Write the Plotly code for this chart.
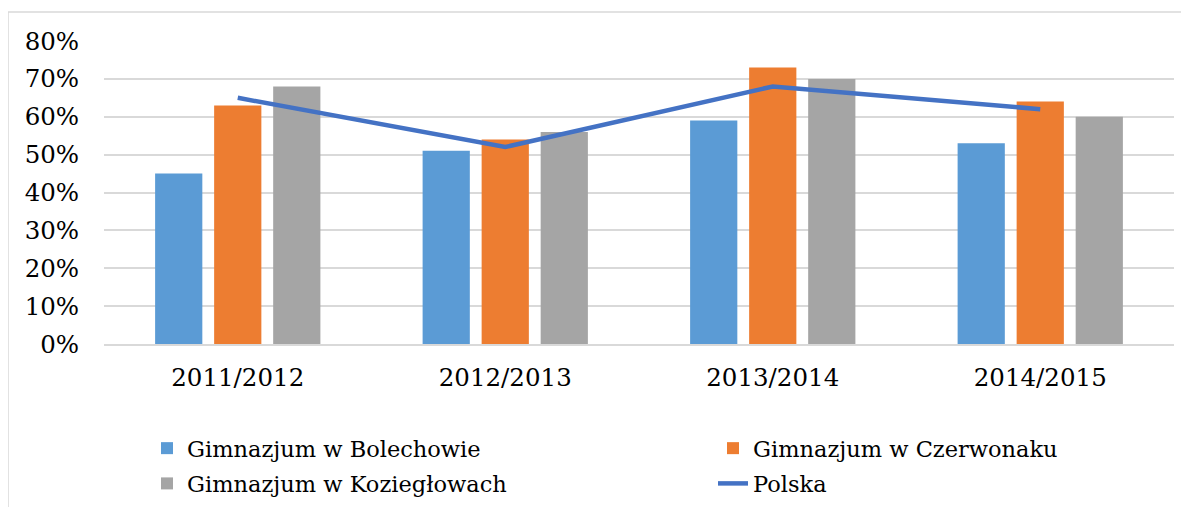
import plotly.graph_objects as go

categories = ["2011/2012", "2012/2013", "2013/2014", "2014/2015"]
bolechowo = [0.45, 0.51, 0.59, 0.53]
czerwonak = [0.63, 0.54, 0.73, 0.64]
kozieglowy = [0.68, 0.56, 0.70, 0.60]
polska = [0.65, 0.52, 0.68, 0.62]
y_ticks = [0, 0.1, 0.2, 0.3, 0.4, 0.5, 0.6, 0.7, 0.8]

FONT = "DejaVu Serif"

fig = go.Figure()
fig.add_trace(go.Bar(name="Gimnazjum w Bolechowie", x=categories, y=bolechowo,
                     marker=dict(color="#5B9BD5", line=dict(width=0)),
                     legend="legend", legendgroup="a"))
fig.add_trace(go.Bar(name="Gimnazjum w Czerwonaku", x=categories, y=czerwonak,
                     marker=dict(color="#ED7D31", line=dict(width=0)),
                     legend="legend2", legendgroup="b"))
fig.add_trace(go.Bar(name="Gimnazjum w Koziegłowach", x=categories, y=kozieglowy,
                     marker=dict(color="#A5A5A5", line=dict(width=0)),
                     legend="legend", legendgroup="c"))
fig.add_trace(go.Scatter(name="Polska", x=categories, y=polska, mode="lines",
                         line=dict(color="#4472C4", width=4.5),
                         legend="legend2", legendgroup="d"))

# page has an 8px body margin, so figure coordinates = page coordinates - 8
OFF = 8
W, H = 1189, 507
ml, mr, mt, mb = 104 - OFF, W - (1174 - OFF), 41 - OFF, H - (344 - OFF)
pw = W - ml - mr
ph = H - mt - mb

leg_common = dict(orientation="v", xanchor="left", yanchor="top",
                  y=-0.274,
                  font=dict(family=FONT, size=22.5, color="black"),
                  tracegroupgap=3, bgcolor="rgba(0,0,0,0)")

fig.update_layout(
    width=W, height=H,
    margin=dict(l=ml, r=mr, t=mt, b=mb, autoexpand=False),
    paper_bgcolor="white", plot_bgcolor="white",
    barmode="group", bargap=0.338, bargroupgap=0.2,
    font=dict(family=FONT, size=24.5, color="black"),
    showlegend=True,
    legend=dict(x=(147 - OFF - ml) / pw, **leg_common),
    legend2=dict(x=(713 - OFF - ml) / pw, **leg_common),
    shapes=[dict(type="rect", xref="paper", yref="paper",
                 x0=(8 - OFF - ml) / pw, x1=(1300 - ml) / pw,
                 y0=-(H - mt) / ph - 0.5, y1=(mt - (12 - OFF)) / ph + 1,
                 line=dict(color="#D9D9D9", width=1.5), fillcolor="rgba(0,0,0,0)",
                 layer="below")],
)
fig.update_xaxes(showgrid=False, showline=True, linecolor="#D9D9D9", linewidth=1.5,
                 ticks="outside", ticklen=11, tickcolor="rgba(0,0,0,0)",
                 tickfont=dict(family=FONT, size=24.5, color="black"), automargin=False)
fig.update_yaxes(range=[0, 0.8], tickvals=y_ticks, tickformat=".0%",
                 showgrid=True, gridcolor="#D9D9D9", gridwidth=1.5,
                 zeroline=False, showline=False,
                 ticks="outside", ticklen=19, tickcolor="rgba(0,0,0,0)",
                 tickfont=dict(family=FONT, size=24.5, color="black"), automargin=False)

fig.write_html("out.html")
